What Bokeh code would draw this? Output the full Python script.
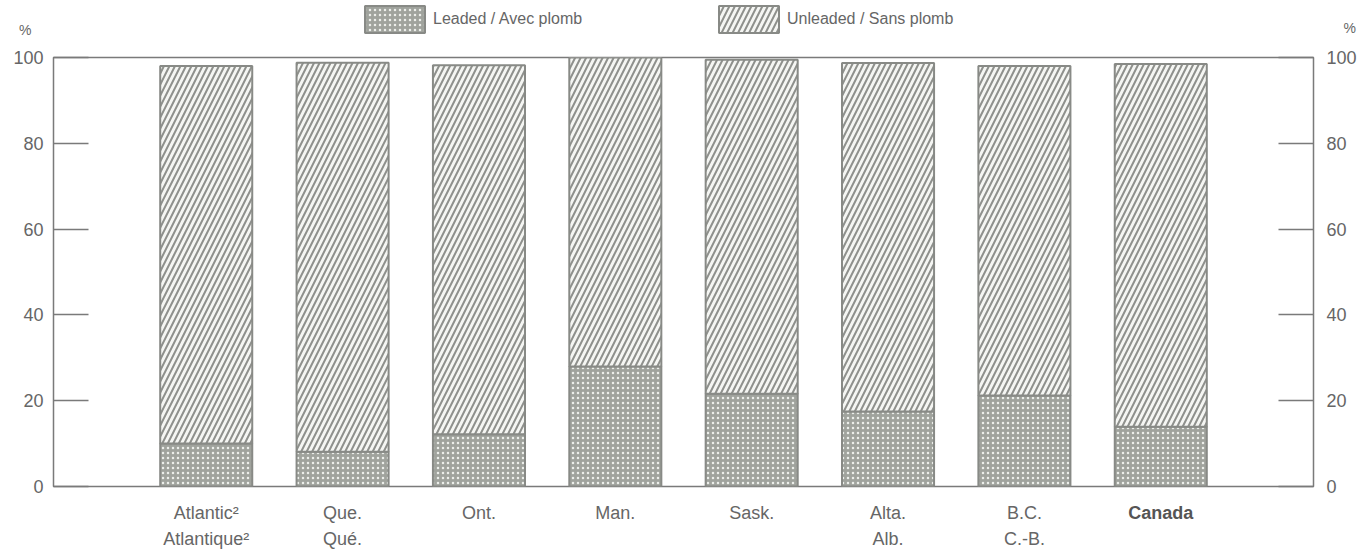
from bokeh.plotting import figure
from bokeh.layouts import column
from bokeh.models import (Range1d, LinearAxis, FixedTicker, Legend, LegendItem,
                          ColumnDataSource)
from bokeh.core.properties import value
from bokeh.embed import file_html
from bokeh.resources import INLINE

# ---------------- data ----------------
categories = ["Atlantic²\nAtlantique²", "Que.\nQué.", "Ont.", "Man.", "Sask.",
              "Alta.\nAlb.", "B.C.\nC.-B.", "Canada"]
label_styles = ["normal", "normal", "normal", "normal", "normal", "normal", "normal", "bold"]
label_colors = ["#666666"] * 7 + ["#555555"]
leaded = [10.0, 8.1, 12.2, 28.0, 21.6, 17.5, 21.2, 13.9]
unleaded = [88.0, 90.7, 86.0, 72.0, 77.9, 81.2, 76.8, 84.6]
series_names = ["Leaded / Avec plomb", "Unleaded / Sans plomb"]
y_ticks = [0, 20, 40, 60, 80, 100]
axis_unit = "%"

# ---------------- styles ----------------
FONT = "Liberation Sans"
TXT = "#666666"
FRAME = "#7a7a7a"
W = 1360
TOP_H, MAIN_H, BOT_H = 45, 453, 52
ML, MR = 53, 47

LEAD_STYLE = dict(fill_color="#a0a39d", line_color="#888a86", line_width=2,
                  hatch_pattern=".", hatch_color="#eceeea", hatch_scale=5, hatch_weight=1)
UNL_STYLE = dict(fill_color="#f5f6f3", line_color="#888a86", line_width=2,
                 hatch_pattern="/", hatch_color="#8e908c", hatch_scale=11, hatch_weight=2)

x_start, x_end = -1.12, len(categories) - 1 + 1.12
x_range = Range1d(x_start, x_end)

src = ColumnDataSource(dict(x=list(range(len(categories))), leaded=leaded, unleaded=unleaded,
                            label=categories, style=label_styles, color=label_colors))


def bare(fig):
    fig.xgrid.visible = False
    fig.ygrid.visible = False


# ---------------- main chart ----------------
p = figure(width=W, height=MAIN_H, x_range=x_range, y_range=Range1d(0, 100),
           output_backend="svg", toolbar_location=None,
           x_axis_location=None, y_axis_location=None,
           min_border_left=ML, min_border_right=MR, min_border_top=12, min_border_bottom=12)
bare(p)
p.outline_line_color = FRAME
p.outline_line_width = 1.5

rs = p.vbar_stack(["leaded", "unleaded"], x="x", width=0.675, source=src,
                  fill_color=[LEAD_STYLE["fill_color"], UNL_STYLE["fill_color"]],
                  line_color=LEAD_STYLE["line_color"], line_width=2,
                  hatch_pattern=[LEAD_STYLE["hatch_pattern"], UNL_STYLE["hatch_pattern"]],
                  hatch_color=[LEAD_STYLE["hatch_color"], UNL_STYLE["hatch_color"]],
                  hatch_scale=[LEAD_STYLE["hatch_scale"], UNL_STYLE["hatch_scale"]],
                  hatch_weight=[LEAD_STYLE["hatch_weight"], UNL_STYLE["hatch_weight"]])

for side, standoff in (("left", 10), ("right", 13)):
    ax = LinearAxis(ticker=FixedTicker(ticks=y_ticks), major_tick_in=35, major_tick_out=0,
                    minor_tick_line_color=None, axis_line_color=None,
                    major_tick_line_color=FRAME, major_tick_line_width=1.5,
                    major_label_standoff=standoff, major_label_text_font=FONT,
                    major_label_text_font_size="18px", major_label_text_color=TXT)
    p.add_layout(ax, side)

# ---------------- header: legend and unit signs ----------------
top = figure(width=W, height=TOP_H, x_range=x_range, y_range=Range1d(0, TOP_H),
             output_backend="svg", toolbar_location=None,
             x_axis_location=None, y_axis_location=None,
             min_border_left=ML, min_border_right=MR, min_border_top=0, min_border_bottom=0)
bare(top)
top.outline_line_color = None

# legend proxies (hidden copies of the bar series)
r_lead = top.vbar(x="x", top="leaded", width=0.675, source=src, visible=False, **LEAD_STYLE)
r_unl = top.vbar(x="x", top="unleaded", width=0.675, source=src, visible=False, **UNL_STYLE)

legend = Legend(items=[LegendItem(label=series_names[0], renderers=[r_lead]),
                       LegendItem(label=series_names[1], renderers=[r_unl])],
                orientation="horizontal", location=(304, 9),
                glyph_width=75, glyph_height=34, label_standoff=1, label_width=262,
                spacing=16, padding=0, margin=0, border_line_color=None,
                background_fill_alpha=0, label_text_font=FONT,
                label_text_font_size="16px", label_text_color=TXT)
top.add_layout(legend)

for side, tick, standoff in (("left", 16, 16), ("right", 18, 24)):
    uax = LinearAxis(ticker=FixedTicker(ticks=[tick]), major_label_overrides={tick: axis_unit},
                     major_tick_line_color=None, minor_tick_line_color=None,
                     axis_line_color=None, major_label_standoff=standoff,
                     major_label_text_font=FONT, major_label_text_font_size="14px",
                     major_label_text_color=TXT)
    top.add_layout(uax, side)

# ---------------- footer: category labels ----------------
bot = figure(width=W, height=BOT_H, x_range=x_range, y_range=Range1d(-BOT_H, 0),
             output_backend="svg", toolbar_location=None,
             x_axis_location=None, y_axis_location=None,
             min_border_left=ML, min_border_right=MR, min_border_top=0, min_border_bottom=0)
bare(bot)
bot.outline_line_color = None
bot.text(x="x", y=0, text="label", source=src, y_offset=4, text_align="center",
         text_baseline="top", text_font=value(FONT), text_font_size="18px",
         text_color="color", text_font_style="style", text_line_height=1.3)

layout = column(top, p, bot, spacing=0)
open("out.html", "w").write(file_html(layout, INLINE))
